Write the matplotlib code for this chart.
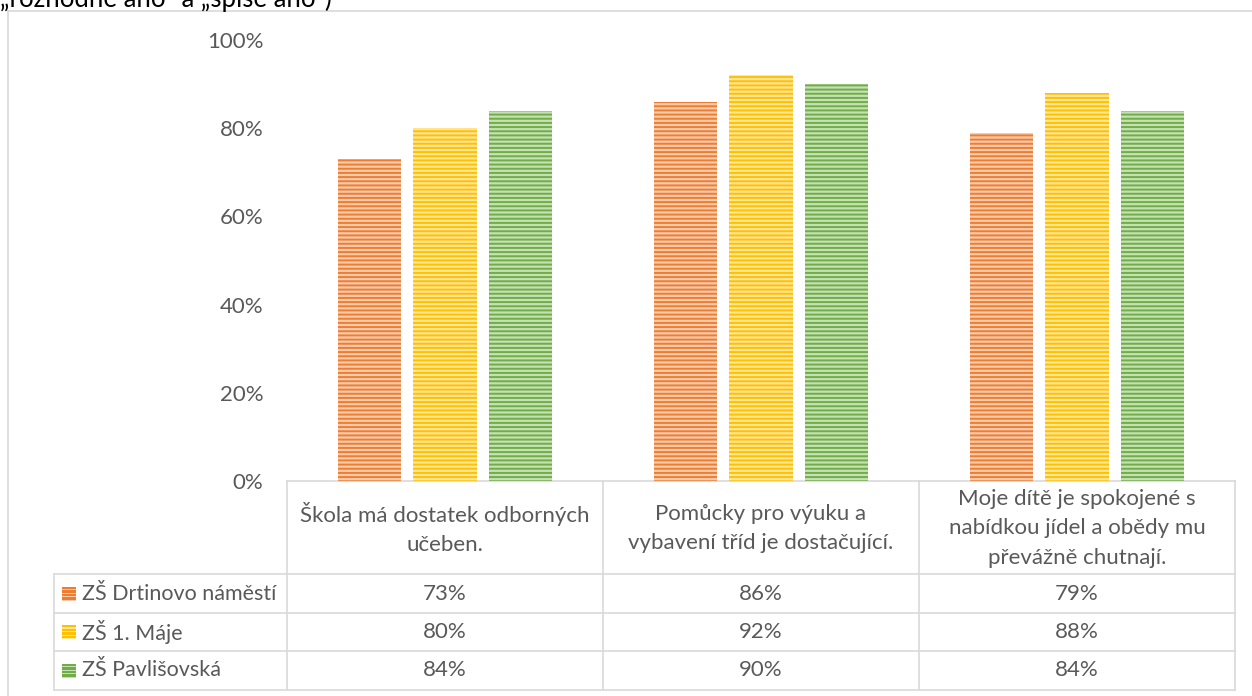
import numpy as np
import matplotlib
matplotlib.use("Agg")
import matplotlib.pyplot as plt
from matplotlib.ticker import FuncFormatter

plt.rcParams['font.family'] = ['Lato', 'DejaVu Sans']
plt.rcParams['hatch.linewidth'] = 1.4

# data
categories = ["Škola má dostatek odborných\nučeben.",
              "Pomůcky pro výuku a\nvybavení tříd je dostačující.",
              "Moje dítě je spokojené s\nnabídkou jídel a obědy mu\npřevážně chutnají."]
schools = ["ZŠ Drtinovo náměstí", "ZŠ 1. Máje", "ZŠ Pavlišovská"]
drtinovo = [73, 86, 79]
maje = [80, 92, 88]
pavlisovska = [84, 90, 84]
series = [drtinovo, maje, pavlisovska]
colors = ["#ED7D31", "#FFC000", "#70AD47"]
light = ["#F8CBAD", "#FFE699", "#C5E0B4"]
yticks = [0, 20, 40, 60, 80, 100]

W, H = 1252, 696
fig = plt.figure(figsize=(W / 100, H / 100), dpi=100)

# overlay in pixel coords (frame + data table)
ov = fig.add_axes([0, 0, 1, 1], zorder=0)
ov.set_xlim(0, W)
ov.set_ylim(H, 0)
ov.axis('off')

# plot area
x0, x1, y_top, y_bot = 287, 1235, 40, 481
ax = fig.add_axes([x0 / W, 1 - y_bot / H, (x1 - x0) / W, (y_bot - y_top) / H], zorder=1)
ax.patch.set_alpha(0)

x = np.arange(len(categories))
bw = 0.2
step = 0.24
for i, vals in enumerate(series):
    ax.bar(x + (i - 1) * step, vals, width=bw, facecolor=light[i],
           edgecolor=colors[i], linewidth=0, hatch='----')

ax.set_xlim(-0.5, len(categories) - 0.5)
ax.set_ylim(0, 100)
ax.set_yticks(yticks)
ax.yaxis.set_major_formatter(FuncFormatter(lambda v, p: f"{v:.0f}%"))
ax.tick_params(axis='y', length=0, pad=17, labelsize=16, labelcolor='#595959')
ax.set_xticks([])
for s in ax.spines.values():
    s.set_visible(False)

grid = '#D9D9D9'
lw = 1.2
# outer frame
ov.plot([8, 8], [11, H], color=grid, lw=lw)
ov.plot([8, W], [11, 11], color=grid, lw=lw)

# table
col_edges = [x0 + k * (x1 - x0) / 3 for k in range(4)]
row_edges = [481, 574, 613, 651, 690]
left = 54
ov.plot([x0, x1], [row_edges[0], row_edges[0]], color=grid, lw=lw)
for yy in row_edges[1:]:
    ov.plot([left, x1], [yy, yy], color=grid, lw=lw)
ov.plot([left, left], [row_edges[1], row_edges[-1]], color=grid, lw=lw)
for xx in col_edges:
    ov.plot([xx, xx], [row_edges[0], row_edges[-1]], color=grid, lw=lw)

txt = dict(fontsize=16, color='#595959')
for j, cat in enumerate(categories):
    cx = (col_edges[j] + col_edges[j + 1]) / 2
    ov.text(cx, (row_edges[0] + row_edges[1]) / 2 + 1, cat, ha='center', va='center',
            linespacing=1.6, **txt)
for i, name in enumerate(schools):
    cy = (row_edges[i + 1] + row_edges[i + 2]) / 2
    key_y = cy - 7
    ov.add_patch(plt.Rectangle((62, key_y), 14, 14, color=light[i], lw=0, zorder=0))
    for k in range(4):
        ov.add_patch(plt.Rectangle((62, key_y + k * 3.6), 14, 2.4, color=colors[i], lw=0))
    ov.text(82, cy, name, ha='left', va='center', fontsize=15.5, color='#595959')
    for j, v in enumerate(series[i]):
        cx = (col_edges[j] + col_edges[j + 1]) / 2
        ov.text(cx, cy, f"{v}%", ha='center', va='center', **txt)

# cut-off title remnant at the top (only its lower part is visible, as in the source)
ov.text(0, 7, "„rozhodně ano“ a „spíše ano“)", ha='left', va='baseline',
        fontsize=18.5, color='black')

fig.savefig("out.png", dpi=100)
